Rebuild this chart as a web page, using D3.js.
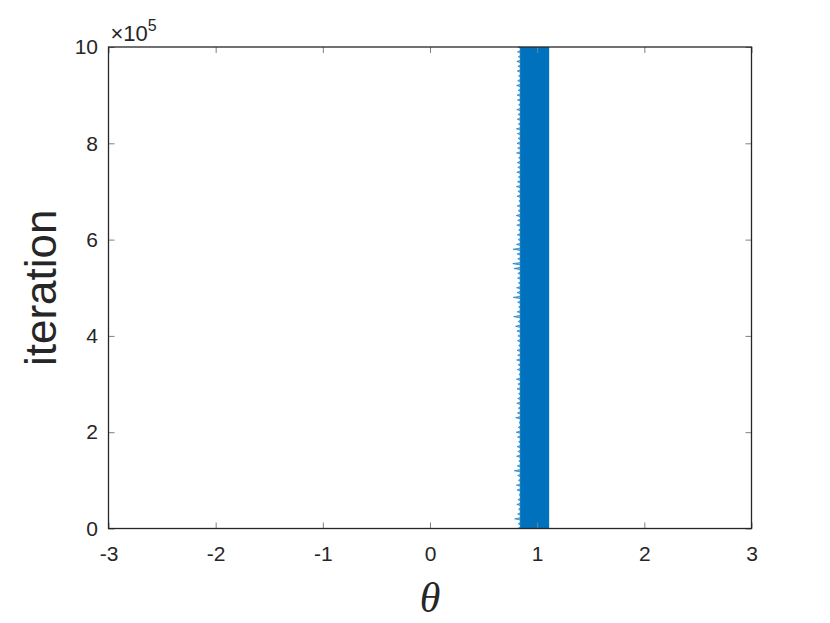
<!DOCTYPE html>
<html lang="en">
<head>
  <meta charset="UTF-8">
  <title>theta trace</title>
  <script src="https://d3js.org/d3.v7.min.js"></script>
  <style>
    body { margin: 0; background: #fff; }
    .axis text { font-family: "Liberation Sans", Arial, sans-serif; font-size: 21px; fill: #262626; }
    .axis line { stroke: #808080; }
    .axis .domain { stroke: none; }
    .label { font-family: "Liberation Sans", Arial, sans-serif; fill: #262626; }
  </style>
</head>
<body>
  <svg id="chart" width="830" height="623"></svg>

  <script>
    // tick values
    const xTicks = [-3, -2, -1, 0, 1, 2, 3];
    const yTicks = [0, 2e5, 4e5, 6e5, 8e5, 10e5];

    // trace envelope, sampled every 10,000 iterations (bottom to top)
    const iterStep = 10000;
    const thetaHigh = 1.112;   // right edge of the band
    const thetaCore = 0.842;   // where the band becomes solid
    const thetaLow = [
      0.815, 0.822, 0.790, 0.818, 0.826, 0.810, 0.820, 0.830, 0.812, 0.806,
      0.824, 0.818, 0.786, 0.814, 0.828, 0.808, 0.820, 0.812, 0.826, 0.816,
      0.804, 0.822, 0.830, 0.800, 0.816, 0.823, 0.810, 0.818, 0.826, 0.812,
      0.820, 0.806, 0.829, 0.815, 0.822, 0.808, 0.818, 0.812, 0.826, 0.816,
      0.820, 0.810, 0.798, 0.822, 0.780, 0.814, 0.826, 0.818, 0.776, 0.812,
      0.808, 0.824, 0.816, 0.820, 0.784, 0.772, 0.818, 0.812, 0.775, 0.806,
      0.822, 0.814, 0.826, 0.810, 0.818, 0.804, 0.822, 0.814, 0.828, 0.812,
      0.820, 0.806, 0.816, 0.824, 0.810, 0.819, 0.813, 0.826, 0.808, 0.818,
      0.812, 0.822, 0.816, 0.806, 0.824, 0.814, 0.820, 0.810, 0.826, 0.816,
      0.812, 0.822, 0.808, 0.818, 0.826, 0.814, 0.820, 0.810, 0.824, 0.816,
      0.820
    ];

    const svg = d3.select("#chart");
    const margins = { top: 47, right: 78.5, bottom: 94.5, left: 108.5 };
    const width = +svg.attr("width");
    const height = +svg.attr("height");
    const chartWidth = width - margins.left - margins.right;
    const chartHeight = height - margins.top - margins.bottom;

    const xScale = d3.scaleLinear().domain([-3, 3]).range([0, chartWidth]);
    const yScale = d3.scaleLinear().domain([0, 1e6]).range([chartHeight, 0]);

    const chartArea = svg.append("g").attr("transform", `translate(${margins.left},${margins.top})`);

    const samples = thetaLow.map((t, i) => ({ iter: i * iterStep, low: t }));

    // ragged left edge of the trace: a spike down to the sampled minimum every step
    const edgePts = [];
    samples.forEach(d => {
      if (d.iter > 0) edgePts.push([thetaCore, d.iter - iterStep / 4]);
      edgePts.push([d.low, d.iter]);
      if (d.iter < 1e6) edgePts.push([thetaCore, d.iter + iterStep / 4]);
    });
    chartArea.append("path")
      .datum(edgePts)
      .attr("fill", "#0072BD")
      .attr("fill-opacity", 0.55)
      .attr("stroke", "#0072BD")
      .attr("stroke-opacity", 0.6)
      .attr("stroke-width", 1)
      .attr("d", d3.area()
        .y(d => yScale(d[1]))
        .x0(d => xScale(d[0]))
        .x1(xScale(thetaCore) + 1));

    // solid part of the band
    chartArea.append("path")
      .datum(samples)
      .attr("fill", "#0072BD")
      .attr("d", d3.area()
        .y(d => yScale(d.iter))
        .x0(xScale(thetaCore))
        .x1(xScale(thetaHigh)));

    // axes, ticks pointing inward
    chartArea.append("g").attr("class", "axis")
      .attr("transform", `translate(0,${chartHeight})`)
      .call(d3.axisBottom(xScale).tickValues(xTicks).tickSizeInner(-6).tickSizeOuter(0).tickPadding(18)
        .tickFormat(d => String(d)));
    chartArea.append("g").attr("class", "axis")
      .call(d3.axisLeft(yScale).tickValues(yTicks).tickSizeInner(-6).tickSizeOuter(0).tickPadding(10.5)
        .tickFormat(d => String(d / 1e5)));
    chartArea.append("g").attr("class", "axis")
      .call(d3.axisTop(xScale).tickValues(xTicks).tickSizeInner(-6).tickSizeOuter(0).tickFormat(""));
    chartArea.append("g").attr("class", "axis")
      .attr("transform", `translate(${chartWidth},0)`)
      .call(d3.axisRight(yScale).tickValues(yTicks).tickSizeInner(-6).tickSizeOuter(0).tickFormat(""));

    // box
    chartArea.append("rect")
      .attr("width", chartWidth).attr("height", chartHeight)
      .attr("fill", "none").attr("stroke", "#262626").attr("stroke-width", 1.3);

    // exponent
    const expo = svg.append("text")
      .attr("class", "label")
      .attr("x", margins.left + 2)
      .attr("y", 41)
      .style("font-size", "22px")
      .text("\u00d710");
    expo.append("tspan").attr("dy", -10).style("font-size", "16px").text("5");

    // y label
    svg.append("text")
      .attr("class", "label")
      .attr("transform", `translate(56,${margins.top + chartHeight / 2}) rotate(-90)`)
      .attr("text-anchor", "middle")
      .style("font-size", "44px")
      .text("iteration");

    // x label
    svg.append("text")
      .attr("x", margins.left + xScale(0))
      .attr("y", 612)
      .attr("text-anchor", "middle")
      .attr("font-family", "Liberation Serif, Times New Roman, serif")
      .attr("font-style", "italic")
      .attr("font-size", "42px")
      .attr("fill", "#262626")
      .text("\u03b8");
  </script>
</body>
</html>
